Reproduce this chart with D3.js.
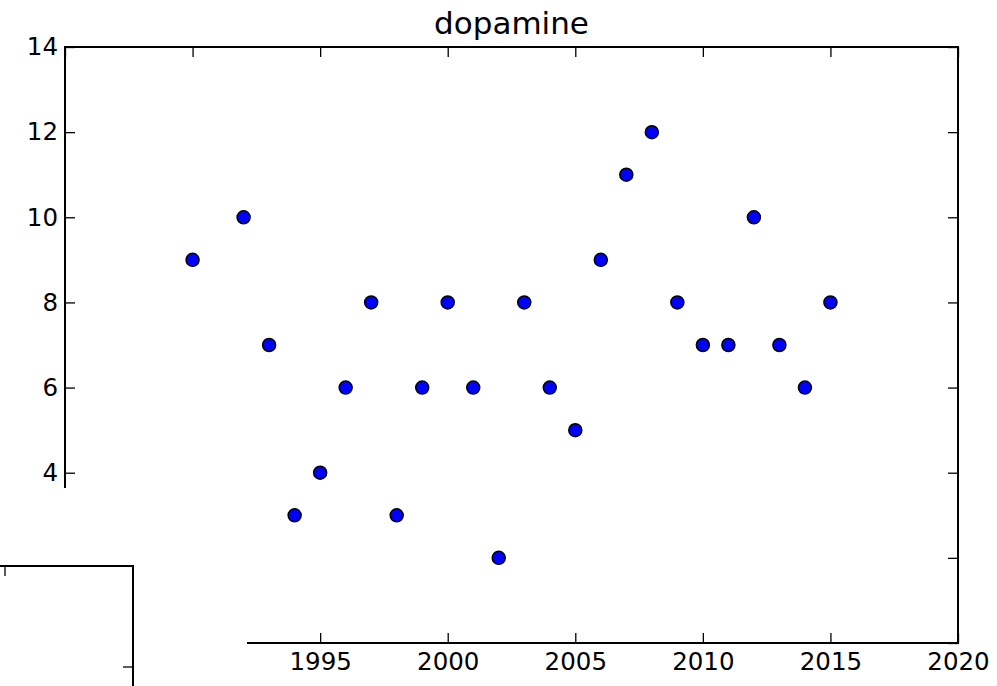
<!DOCTYPE html>
<html>
<head>
<meta charset="utf-8">
<script src="https://cdn.jsdelivr.net/npm/d3@7"></script>
<style>
  body { margin: 0; background: #fff; }
  svg text { font-family: "DejaVu Sans", sans-serif; fill: #000; }
  .axis path, .axis line { stroke: #000; }
</style>
</head>
<body>
<div id="chart"></div>
<script>
// data
const years = [1990, 1992, 1993, 1994, 1995, 1996, 1997, 1998, 1999, 2000, 2001, 2002, 2003,
               2004, 2005, 2006, 2007, 2008, 2009, 2010, 2011, 2012, 2013, 2014, 2015];
const counts = [9, 10, 7, 3, 4, 6, 8, 3, 6, 8, 6, 2, 8,
                6, 5, 9, 11, 12, 8, 7, 7, 10, 7, 6, 8];
const xTicks = [1985, 1990, 1995, 2000, 2005, 2010, 2015, 2020];
const yTicks = [0, 2, 4, 6, 8, 10, 12, 14];
const title = "dopamine";

//constants
const width = 997;
const height = 686;
const margin = {top: 47, right: 39, bottom: 43, left: 65};
const tickLen = 10;

const x = d3.scaleLinear()
    .domain([1985, 2020])
    .range([margin.left, width - margin.right]);
const y = d3.scaleLinear()
    .domain([0, 14])
    .range([height - margin.bottom, margin.top]);

const svg = d3.select("#chart")
    .append("svg")
    .attr("width", width)
    .attr("height", height);

// inside ticks on all four sides, classic style
function styleAxis(g) {
    g.attr("class", "axis");
    g.select(".domain").remove();
    g.selectAll(".tick line").attr("stroke-width", 1.3);
    g.selectAll(".tick text").style("font-size", "24.5px");
}

svg.append("g")
    .attr("transform", `translate(0,${y(0)})`)
    .call(d3.axisBottom(x).tickValues(xTicks).tickFormat(d3.format("d"))
        .tickSizeInner(-tickLen).tickSizeOuter(0).tickPadding(10))
    .call(styleAxis)
    .call(g => g.selectAll(".tick").filter(d => d == 1985).select("text").remove());

svg.append("g")
    .attr("transform", `translate(0,${y(14)})`)
    .call(d3.axisTop(x).tickValues(xTicks).tickFormat("")
        .tickSizeInner(-tickLen).tickSizeOuter(0))
    .call(styleAxis);

svg.append("g")
    .attr("transform", `translate(${x(1985)},0)`)
    .call(d3.axisLeft(y).tickValues(yTicks).tickFormat(d3.format("d"))
        .tickSizeInner(-tickLen).tickSizeOuter(0).tickPadding(7))
    .call(styleAxis);

svg.append("g")
    .attr("transform", `translate(${x(2020)},0)`)
    .call(d3.axisRight(y).tickValues(yTicks).tickFormat("")
        .tickSizeInner(-tickLen).tickSizeOuter(0))
    .call(styleAxis);

// frame
svg.append("rect")
    .attr("x", x(1985))
    .attr("y", y(14))
    .attr("width", x(2020) - x(1985))
    .attr("height", y(0) - y(14))
    .style("fill", "none")
    .style("stroke", "#000")
    .style("stroke-width", 2);

svg.append("g")
    .selectAll("circle")
    .data(years.map((yr, i) => ({year: yr, value: counts[i]})))
    .enter()
    .append("circle")
    .attr("cx", d => x(d.year))
    .attr("cy", d => y(d.value))
    .attr("r", 6.5)
    .style("fill", "#0000ff")
    .style("stroke", "#000")
    .style("stroke-width", 1.5);

svg.append("text")
    .attr("x", (x(1985) + x(2020)) / 2)
    .attr("y", 34)
    .attr("text-anchor", "middle")
    .style("font-size", "31px")
    .text(title);

// second (empty) axes laid over the lower-left corner
const inset = svg.append("g");
inset.append("rect")
    .attr("x", 0)
    .attr("y", 488)
    .attr("width", 247)
    .attr("height", height - 488)
    .style("fill", "#fff");

const ix = d3.scaleLinear().domain([0, 1]).range([5, 133]);
const iy = d3.scaleLinear().domain([0, 1]).range([667, 566]);

inset.append("path")
    .attr("d", `M${ix(0) - 10},${iy(1)}H${ix(1)}V${height + 5}`)
    .style("fill", "none")
    .style("stroke", "#000")
    .style("stroke-width", 2);
inset.append("line")
    .attr("x1", ix(0)).attr("x2", ix(0))
    .attr("y1", iy(1)).attr("y2", iy(1) + tickLen)
    .style("stroke", "#000").style("stroke-width", 1.3);
inset.append("line")
    .attr("x1", ix(1)).attr("x2", ix(1) - tickLen)
    .attr("y1", iy(0)).attr("y2", iy(0))
    .style("stroke", "#000").style("stroke-width", 1.3);
</script>
</body>
</html>
